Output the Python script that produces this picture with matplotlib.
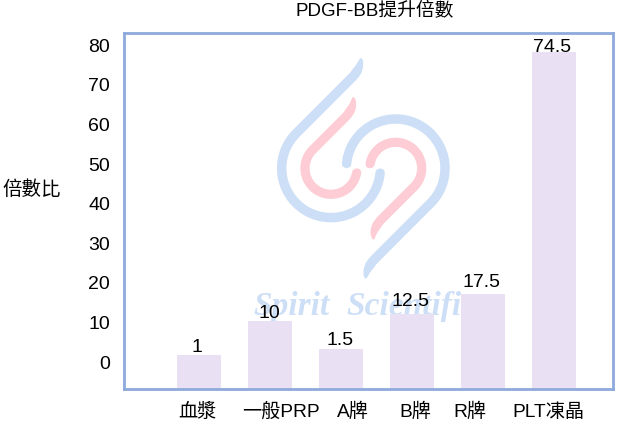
# PDGF-BB fold increase bar chart
import numpy as np
import matplotlib
matplotlib.use("Agg")
import matplotlib.pyplot as plt
from matplotlib.transforms import Affine2D, blended_transform_factory

plt.rcParams['font.family'] = ['Liberation Sans', 'Noto Sans CJK TC', 'DejaVu Sans']

# -----------------------------------
# Data
# -----------------------------------
categories = ['血漿', '一般PRP', 'A牌', 'B牌', 'R牌', 'PLT凍晶']
value_labels = ['1', '10', '1.5', '12.5', '17.5', '74.5']
bar_tops = [1.8, 10.4, 3.3, 12.1, 17.2, 78.3]   # height on the drawn axis
y_ticks = [0, 10, 20, 30, 40, 50, 60, 70, 80]

W, H = 623, 421
BLUE = '#cddff6'
PINK = '#fdccd4'
SPINE = '#8eaadb'
BAR = '#e9e0f3'

fig = plt.figure(figsize=(W / 100, H / 100), dpi=100)
ax = fig.add_axes([124 / W, 1 - 389 / H, (613 - 124) / W, (389 - 33) / H])

y_min, y_max = -6.8, 83.1
x_pos = np.arange(len(categories))
ax.set_xlim(-1.056, 5.83)
ax.set_ylim(y_min, y_max)

# pixel coordinates of the picture, used for the watermark only
px = Affine2D().scale(1 / W, -1 / H).translate(0, 1) + fig.transFigure


def ribbon(points, width, color, taper):
    # filled stroke along a centre line: pointed at the start, round at the end
    pts = np.array(points, dtype=float)
    seg = np.hypot(*np.diff(pts, axis=0).T)
    s = np.r_[0, np.cumsum(seg)]
    half = np.full(len(s), width / 2)
    half = np.minimum(half, width / 2 * np.sqrt(np.clip(s / taper, 0, 1)))
    d_end = np.clip((s[-1] - s) / (width / 2), 0, 1)
    half = half * np.sqrt(1 - (1 - d_end) ** 2)
    tan = np.gradient(pts, s, axis=0)
    tan /= np.hypot(tan[:, 0], tan[:, 1])[:, None]
    nor = np.c_[-tan[:, 1], tan[:, 0]]
    poly = np.r_[pts + nor * half[:, None], (pts - nor * half[:, None])[::-1]]
    ax.fill(poly[:, 0], poly[:, 1], color=color, lw=0, transform=px,
            zorder=1, clip_on=False)


def swirl(cx, cy, r, tip, ctrl, start, end_deg, width, color, sign):
    # bezier tip, straight run, then an arc round (cx, cy)
    tip, ctrl, start = [np.array(p, dtype=float) for p in (tip, ctrl, start)]
    t = np.linspace(0, 1, 30)[:, None]
    curve = (1 - t) ** 2 * tip + 2 * t * (1 - t) * ctrl + t ** 2 * start
    a0 = np.arctan2(sign * -1, sign * -1)
    angles = a0 - np.radians(np.linspace(0, end_deg, 160))
    arc = np.c_[cx + r * np.cos(angles), cy + r * np.sin(angles)]
    line = np.linspace(start, arc[0], 30)[1:-1]
    ribbon(np.r_[curve, line, arc], width, color, 14)


# logo, coordinates in pixels
left = (331, 168.3)
right = (395.7, 168.3)
swirl(*left, 49.3, (361, 58), (361, 68), (352, 77.5), 225, 9.5, BLUE, 1)
swirl(*left, 26, (353, 97), (355, 106), (346, 116.5), 225, 9.2, PINK, 1)
swirl(*right, 49.3, (365.7, 278.6), (365.7, 268.6), (374.7, 259.1), 225, 9.5, BLUE, -1)
swirl(*right, 26, (373.7, 239.6), (371.7, 230.6), (380.7, 220.1), 225, 9.2, PINK, -1)

wm = dict(color=BLUE, fontsize=24, fontweight='bold', fontstyle='italic',
          family='Liberation Serif', transform=px, zorder=1, va='baseline', clip_on=True)
ax.text(253, 315, 'Spirit', **wm)
ax.text(346, 315, 'Scientifi', **wm)

# -----------------------------------
# Bars, standing on the bottom edge of the frame
# -----------------------------------
ax.bar(x_pos, np.array(bar_tops) - y_min, bottom=y_min, width=0.62,
       color=BAR, zorder=2)

# small per-bar nudges so that the numbers sit where they do in the source
label_dx = [-2, -1, -1, -2, -2, -2]
label_dy = [3, 3, 4, 8, 7, 0]
for i, txt in enumerate(value_labels):
    ax.annotate(txt, (x_pos[i], bar_tops[i]), xytext=(label_dx[i] * 0.72, label_dy[i] * 0.72),
                textcoords='offset points', ha='center', va='baseline',
                fontsize=14, color='black', zorder=3)

# category labels are not centred under the bars in the source
ax.set_xticks(x_pos, [''] * len(categories))
cat_dx = [-2, 11, 12, 3, -13, -6]
x_trans = blended_transform_factory(ax.transData, ax.transAxes)
for i, txt in enumerate(categories):
    ax.annotate(txt, (x_pos[i], 0), xycoords=x_trans, xytext=(cat_dx[i] * 0.72, -23 * 0.72),
                textcoords='offset points', ha='center', va='center',
                fontsize=13.8, color='black', annotation_clip=False)

ax.set_yticks(y_ticks)
ax.tick_params(axis='both', length=0)
ax.tick_params(axis='y', labelsize=14, pad=10)

for side in ax.spines.values():
    side.set_color(SPINE)
    side.set_linewidth(2)

fig.text(375 / W, 1 - 11 / H, 'PDGF-BB提升倍數', ha='center', va='center', fontsize=13.5)
fig.text(2 / W, 1 - 190 / H, '倍數比', ha='left', va='center', fontsize=14)

fig.savefig('out.png', dpi=100)
